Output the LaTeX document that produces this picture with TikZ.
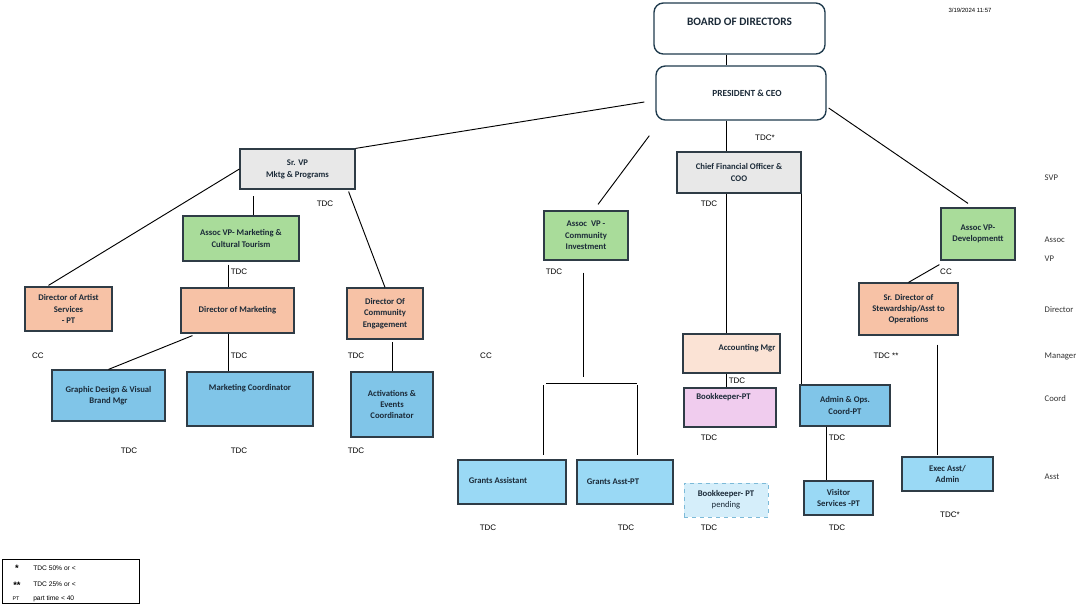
\documentclass[tikz,border=0pt]{standalone}
\usepackage{fontspec}
\setmainfont{Carlito}
\newfontfamily\arialfont{Liberation Sans}
\usetikzlibrary{calc}
\definecolor{boxline}{HTML}{2F3C46}
\definecolor{topline}{HTML}{1F3B4D}
\definecolor{boxtext}{HTML}{1B2A38}
\definecolor{grayfill}{HTML}{E8E8E8}
\definecolor{greenfill}{HTML}{A9DC9A}
\definecolor{salmonfill}{HTML}{F7C2A6}
\definecolor{paleorange}{HTML}{FBE3D5}
\definecolor{bluefill}{HTML}{80C5E8}
\definecolor{skyfill}{HTML}{9AD9F5}
\definecolor{pinkfill}{HTML}{F0CCEE}
\definecolor{pendfill}{HTML}{D5EEFA}
\definecolor{pendline}{HTML}{7CBAD8}
\tikzset{
  wh/.style 2 args={minimum width=#1*0.75pt, minimum height=#2*0.75pt},
  inner/.style={font=\bfseries\fontsize{6.5}{8.5}\selectfont, text=boxtext, align=center, inner sep=0pt},
  box/.style={draw=boxline, line width=0.9pt, inner, inner sep=1pt},
  topbox/.style={draw=topline, line width=1pt, rounded corners=7pt},
  grayb/.style={box, fill=grayfill},
  greenb/.style={box, fill=greenfill},
  salmonb/.style={box, fill=salmonfill},
  blueb/.style={box, fill=bluefill},
  skyb/.style={box, fill=skyfill},
  link/.style={line width=0.7pt},
  tdc/.style={font=\arialfont\fontsize{6}{7}\selectfont},
  tier/.style={anchor=west, font=\fontsize{6.5}{8}\selectfont, text=black!80},
  legtxt/.style={anchor=west, font=\arialfont\fontsize{5}{6}\selectfont, inner sep=0pt},
  legkey/.style={font=\arialfont\bfseries\fontsize{7}{8}\selectfont, inner sep=0pt}
}
\begin{document}
\begin{tikzpicture}[x=0.75pt,y=-0.75pt]
\useasboundingbox (0,0) rectangle (1076,604);
% columns for the vertical links
\coordinate (spine) at (726,0);
\coordinate (mk) at (228,0);
\coordinate (adm) at (826,0);
\coordinate (ex) at (937,0);
\coordinate (brl) at (543,383);
\coordinate (brr) at (637,383);

% top of the chart
\node[topbox, wh={171}{51}, label={[inner, font=\bfseries\fontsize{8.5}{10}\selectfont, yshift=4.9pt]center:BOARD OF DIRECTORS}] (board) at (739.5,28.5) {};
\node[topbox, wh={170}{54}, label={[inner, font=\bfseries\fontsize{7}{9}\selectfont, xshift=4.5pt]center:PRESIDENT \& CEO}] (pres) at (741,93) {};
\node[font=\arialfont\fontsize{4.5}{5}\selectfont] (stamp) at (970,10) {3/19/2024 11:57};

% senior vice presidents
\node[grayb, wh={115}{40}, font=\bfseries\fontsize{6.5}{9}\selectfont] (srvp) at (297.5,169) {Sr. VP\\Mktg \& Programs};
\node[grayb, wh={124}{41}, font=\bfseries\fontsize{6.5}{9}\selectfont] (cfo) at (739,172.5) {Chief Financial Officer \&\\COO};

% associate vice presidents
\node[greenb, wh={116}{45}, font=\bfseries\fontsize{6.5}{9}\selectfont] (avpmkt) at (241,238.5) {Assoc VP- Marketing \&\\Cultural Tourism};
\node[greenb, wh={84}{49}] (avpci) at (586,235.5) {Assoc\ \ VP -\\Community\\Investment};
\node[greenb, wh={74}{52}] (avpdev) at (978,234) {Assoc VP-\\Developmentt};

% directors
\node[salmonb, wh={87}{44}] (dirart) at (68.5,309) {Director of Artist\\Services\\- PT};
\node[salmonb, wh={113}{45}] (dirmkt) at (237.5,310.5) {Director of Marketing};
\node[salmonb, wh={76}{51}] (dircom) at (385,313.5) {Director Of\\Community\\Engagement};
\node[salmonb, wh={99}{52}] (srdir) at (908.5,309) {Sr. Director of\\Stewardship/Asst to\\Operations};
\node[box, fill=paleorange, wh={97}{39}, label={[inner, xshift=11.6pt, yshift=4.1pt]center:Accounting Mgr}] (acct) at (731.5,353.5) {};

% coordinators and assistants
\node[blueb, wh={113}{51}] (graphic) at (108.5,395.5) {Graphic Design \& Visual\\Brand Mgr};
\node[blueb, wh={126}{54}, label={[inner, yshift=8.2pt]center:Marketing Coordinator}] (mktcoord) at (250,399) {};
\node[blueb, wh={82}{65}] (activ) at (392,404.5) {Activations \&\\Events\\Coordinator};
\node[box, fill=pinkfill, wh={92}{39}, label={[inner, xshift=-4.9pt, yshift=7.9pt]center:Bookkeeper-PT}] (bookpt) at (730,407.5) {};
\node[blueb, wh={90}{41}] (admin) at (845,405.5) {Admin \& Ops.\\Coord-PT};
\node[skyb, wh={108}{44}, label={[inner, xshift=-10.5pt, yshift=1.5pt]center:Grants Assistant}] (grants) at (512,482) {};
\node[skyb, wh={96}{44}, label={[inner, xshift=-9pt]center:Grants Asst-PT}] (grantspt) at (625,482) {};
\node[box, fill=pendfill, draw=pendline, dashed, line width=0.6pt, wh={84}{34}] (bookpend) at (726,500) {Bookkeeper- PT\\\mdseries pending};
\node[skyb, wh={69}{34}] (visitor) at (838.5,498) {Visitor\\Services -PT};
\node[skyb, wh={91}{34}] (exec) at (947.5,474) {Exec Asst/\\Admin};

% reporting lines
\draw[link] (board.south -| spine) -- (pres.north -| spine);
\draw[link] ($(pres.west)+(-11,9)$) -- (srvp.north east);
\draw[link] ($(pres.south west)+(-6,15)$) -- ($(avpci.north)+(12,-6)$);
\draw[link] (pres.south -| spine) -- (cfo.north -| spine);
\draw[link] ($(pres.east)+(2,15)$) -- ($(avpdev.north)+(-10,-4)$);
\draw[link] ($(avpmkt.north)+(12,-19)$) -- ($(avpmkt.north)+(12,0)$);
\draw[link] (srvp.west) -- ($(dirart.north)+(-20,-1)$);
\draw[link] ($(srvp.south east)+(-7,2)$) -- (dircom.north);
\draw[link] ($(avpmkt.south -| mk)+(0,3)$) -- (dirmkt.north -| mk);
\draw[link] ($(dirmkt.south west)+(12,2)$) -- (graphic.north);
\draw[link] (dirmkt.south -| mk) -- (mktcoord.north -| mk);
\draw[link] ($(activ.north)+(0,-29)$) -- (activ.north);
\draw[link] ($(avpci.south)+(-3,12)$) -- ++(0,104);
\draw[link] ($(brl)+(3,0)$) -- (brr);
\draw[link] ($(brl)+(0,2)$) -- ($(brl |- grants.north)+(0,-4)$);
\draw[link] ($(brr)+(0,2)$) -- ($(brr |- grantspt.north)+(0,-4)$);
\draw[link] (cfo.south -| spine) -- (acct.north -| spine);
\draw[link] (cfo.south east) -- (cfo.south east |- admin.north);
\draw[link] (acct.south -| spine) -- (bookpt.north -| spine);
\draw[link] (admin.south -| adm) -- (visitor.north -| adm);
\draw[link] ($(avpdev.south west)+(-1,4)$) -- (srdir.north);
\draw[link] ($(srdir.south -| ex)+(0,9)$) -- ($(exec.north -| ex)+(0,-1)$);

% pay source notes
\foreach \x/\y [count=\i] in {325/204, 239/272, 239/356, 356/356, 129/451, 239/451, 356/451,
    709/204, 554/272, 737/381, 709/438, 488/528, 626/528, 709/528, 837/438, 837/528}
  \node[tdc] (tdc\i) at (\x,\y) {TDC};
\node[tdc] (tdcstar) at (765,138) {TDC*};
\node[tdc] (tdcstar2) at (950,515) {TDC*};
\node[tdc] (tdcdbl) at (886,356) {TDC **};
\node[tdc] (cc1) at (38,356) {CC};
\node[tdc] (cc2) at (486,356) {CC};
\node[tdc] (cc3) at (946,272) {CC};

% levels down the right side
\foreach \lvl/\y [count=\i] in {SVP/178, Assoc/240, VP/259, Director/310, Manager/356, Coord/399, Asst/477}
  \node[tier] (tier\i) at (1040,\y) {\lvl};

% legend
\node[draw, line width=0.6pt, wh={137}{44}] (legend) at (70.5,581) {};
\node[legkey] (k1) at (17,568) {*};
\node[legtxt] (v1) at (33,568) {TDC 50\% or <};
\node[legkey] (k2) at (17,585) {**};
\node[legtxt] (v2) at (33,584) {TDC 25\% or <};
\node[legtxt, anchor=center, font=\arialfont\fontsize{4}{5}\selectfont] (k3) at (16,599) {PT};
\node[legtxt] (v3) at (33,599) {part time < 40};
\end{tikzpicture}
\end{document}
